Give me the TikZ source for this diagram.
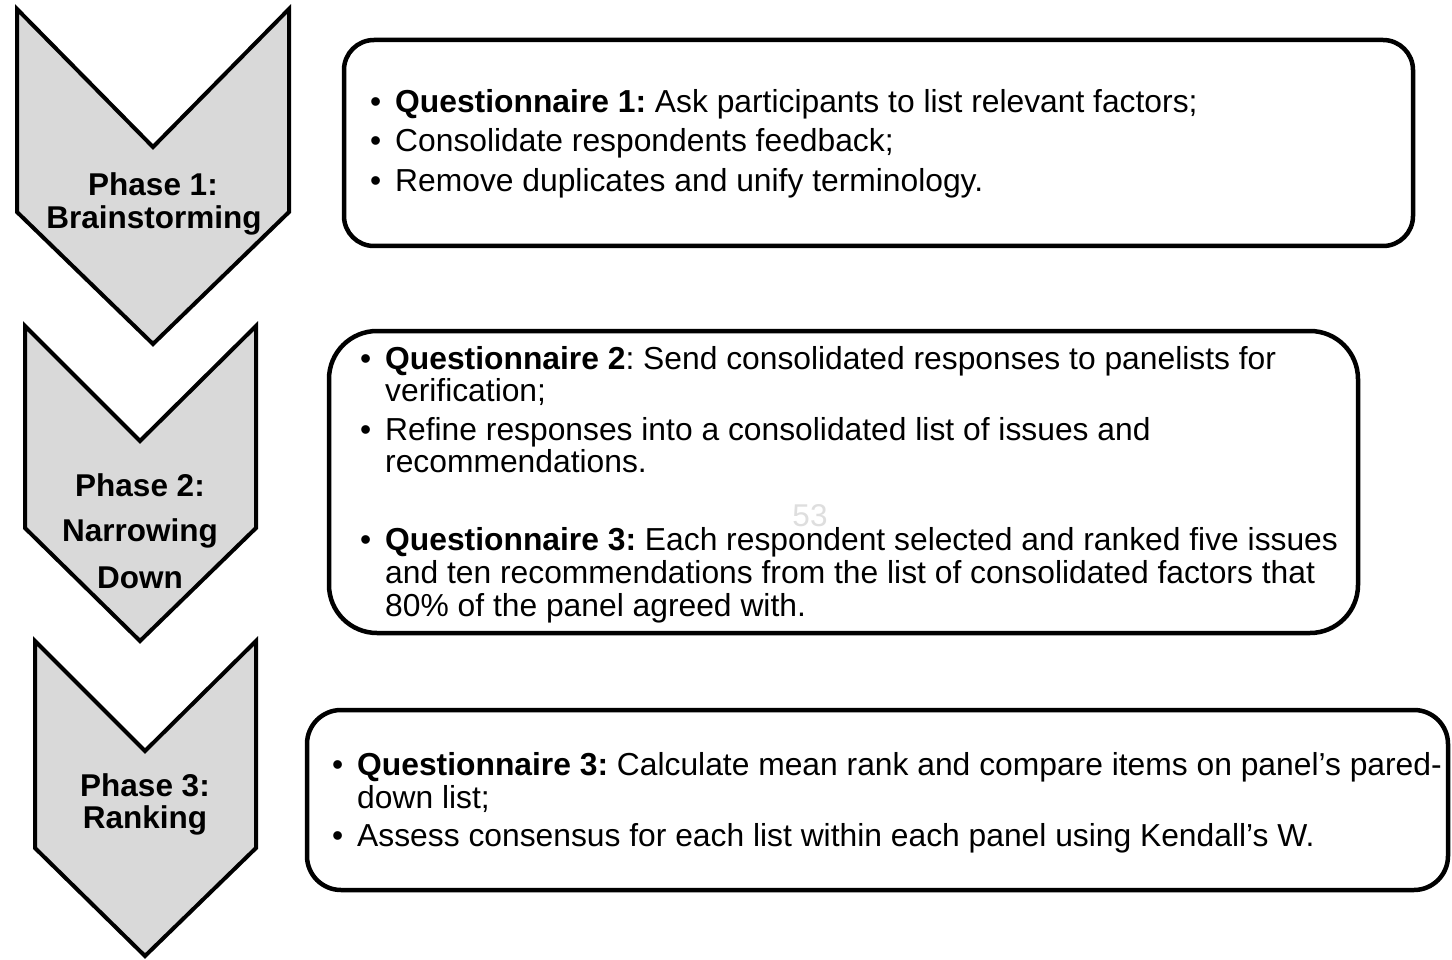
\documentclass[tikz,border=0pt]{standalone}
\usepackage{fontspec}
\setmainfont{Liberation Sans}
\definecolor{chevfill}{RGB}{217,217,217}
\definecolor{pagenum}{RGB}{222,222,222}
\frenchspacing
\begin{document}
\begin{tikzpicture}[x=1pt,y=-1pt,
  chev/.style={draw=black,line width=4pt,fill=chevfill,line join=miter},
  panel/.style={draw=black,line width=4.5pt,fill=white},
  txt/.style={anchor=base west,inner sep=0pt,font=\fontsize{31.8}{33}\selectfont},
  ptxt/.style={anchor=base,inner sep=0pt,font=\fontsize{31.5}{33}\selectfont\bfseries}]
\newcommand{\bul}{\llap{•\hspace{14pt}}}
\useasboundingbox (0,0) rectangle (1452,960);

% chevrons
\draw[chev] (17,9) -- (153,147) -- (289,9) -- (289,212) -- (153,344) -- (17,212) -- cycle;
\draw[chev] (25,326) -- (140,441) -- (256,326) -- (256,528) -- (140,641) -- (25,528) -- cycle;
\draw[chev] (35,641) -- (145,751) -- (256,641) -- (256,848) -- (145,956) -- (35,848) -- cycle;

\node[ptxt] (p1a) at (153,196) {Phase 1:};
\node[ptxt] (p1b) at (154,229) {Brainstorming};
\node[ptxt] (p2a) at (140,496) {Phase 2:};
\node[ptxt] (p2b) at (140,541) {Narrowing};
\node[ptxt] (p2c) at (140,588) {Down};
\node[ptxt] (p3a) at (145,796) {Phase 3:};
\node[ptxt] (p3b) at (145,828) {Ranking};

% panels
\draw[panel,rounded corners=30pt] (344,40) rectangle (1413,246);
\draw[panel,rounded corners=48pt] (329,331) rectangle (1358,633);
\draw[panel,rounded corners=34pt] (307,710) rectangle (1448,890);

% page number
\node[anchor=base,inner sep=0pt,text=pagenum,font=\fontsize{31.5}{33}\selectfont] (pg) at (810,526) {53};

% panel 1 text
\node[txt] (a1) at (395,113) {\bul\textbf{Questionnaire 1:} Ask participants to list relevant factors;};
\node[txt] (a2) at (395,152) {\bul Consolidate respondents feedback;};
\node[txt] (a3) at (395,192) {\bul Remove duplicates and unify terminology.};

% panel 2 text
\node[txt] (b1) at (385,369) {\bul\textbf{Questionnaire 2}: Send consolidated responses to panelists for};
\node[txt] (b2) at (385,401) {verification;};
\node[txt] (b3) at (385,440) {\bul Refine responses into a consolidated list of issues and};
\node[txt] (b4) at (385,472) {recommendations.};
\node[txt] (b5) at (385,550) {\bul\textbf{Questionnaire 3:} Each respondent selected and ranked five issues};
\node[txt] (b6) at (385,583) {and ten recommendations from the list of consolidated factors that};
\node[txt] (b7) at (385,616) {80\% of the panel agreed with.};

% panel 3 text
\node[txt] (c1) at (357,775) {\bul\textbf{Questionnaire 3:} Calculate mean rank and compare items on panel’s pared-};
\node[txt] (c2) at (357,808) {down list;};
\node[txt] (c3) at (357,846) {\bul Assess consensus for each list within each panel using Kendall’s W.};
\end{tikzpicture}
\end{document}
